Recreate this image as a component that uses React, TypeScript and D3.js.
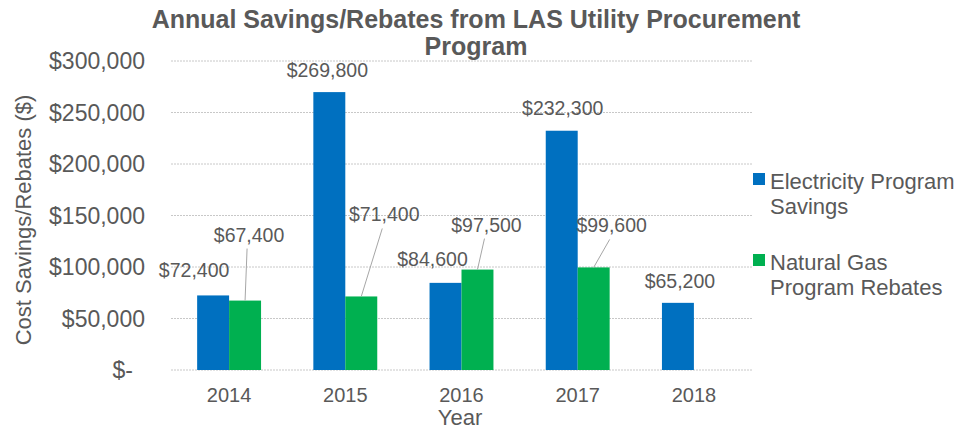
import React from "react";
import * as d3 from "d3";

const years = ["2014", "2015", "2016", "2017", "2018"];
const electricity = [72400, 269800, 84600, 232300, 65200];
const gas: (number | null)[] = [67400, 71400, 97500, 99600, null];
const yTicks = [0, 50000, 100000, 150000, 200000, 250000, 300000];
const seriesNames = [["Electricity Program", "Savings"], ["Natural Gas", "Program Rebates"]];

// manual label placements (offsets from bar center / bar top), as in the original
const elecLabelOffset = [[-19, -18], [-2, -15], [-13, -17], [1, -16], [2, -15]];
const gasLabelOffset = [[4, -59], [23, -75], [9, -38], [18, -35], [0, 0]];

const W = 961, H = 440;
const BLUE = "#0070C0", GREEN = "#00B050", TXT = "#595959";
const FONT = "'Liberation Sans', Arial, sans-serif";

export default function App() {
  const x = d3.scaleBand<string>().domain(years).range([171, 752]).paddingInner(0.45).paddingOuter(0.225);
  const y = d3.scaleLinear().domain([0, 300000]).range([370, 61]);
  const bw = x.bandwidth() / 2;
  const fmt = (v: number) => "$" + d3.format(",")(v);
  const tickFmt = (v: number) => (v === 0 ? "$-" : "$" + d3.format(",")(v));

  return (
    <svg width={W} height={H} style={{ position: "absolute", left: 0, top: 0, fontFamily: FONT }}>
      <rect width={W} height={H} fill="#fff" />
      <text x={476} y={28} textAnchor="middle" fontSize={25} fontWeight="bold" fill={TXT}>
        Annual Savings/Rebates from LAS Utility Procurement
      </text>
      <text x={476} y={55} textAnchor="middle" fontSize={25} fontWeight="bold" fill={TXT}>
        Program
      </text>
      {yTicks.map((t) => (
        <g key={t}>
          <line x1={171} x2={752} y1={y(t)} y2={y(t)} stroke="#c8c8c8" strokeWidth={1} strokeDasharray="2 1" />
          <text x={145} dx={t === 0 ? -12 : 0} y={y(t)} dy="0.35em" textAnchor="end" fontSize={23} fill={TXT}>
            {tickFmt(t)}
          </text>
        </g>
      ))}
      <text transform={`translate(31,220) rotate(-90)`} textAnchor="middle" fontSize={22} fill={TXT}>
        Cost Savings/Rebates ($)
      </text>
      {years.map((yr, i) => {
        const x0 = x(yr)!;
        const e = electricity[i];
        const g = gas[i];
        const ex = x0 + bw / 2;
        const gx = x0 + bw * 1.5;
        return (
          <g key={yr}>
            <rect x={x0} y={y(e)} width={bw} height={y(0) - y(e)} fill={BLUE} />
            {g != null && <rect x={x0 + bw} y={y(g)} width={bw} height={y(0) - y(g)} fill={GREEN} />}
            <text x={ex + elecLabelOffset[i][0]} y={y(e) + elecLabelOffset[i][1]} textAnchor="middle" fontSize={19.5} fill={TXT}>
              {fmt(e)}
            </text>
            {g != null && (
              <g>
                <line
                  x1={gx + gasLabelOffset[i][0] - 2}
                  y1={y(g) + gasLabelOffset[i][1] + 7}
                  x2={gx}
                  y2={y(g)}
                  stroke="#a6a6a6"
                  strokeWidth={1}
                />
                <text x={gx + gasLabelOffset[i][0]} y={y(g) + gasLabelOffset[i][1]} textAnchor="middle" fontSize={19.5} fill={TXT}>
                  {fmt(g)}
                </text>
              </g>
            )}
            <text x={x0 + bw} y={402} textAnchor="middle" fontSize={20} fill={TXT}>
              {yr}
            </text>
          </g>
        );
      })}
      <text x={460} y={425} textAnchor="middle" fontSize={22} fill={TXT}>
        Year
      </text>
      {seriesNames.map((lines, i) => (
        <g key={i} transform={`translate(753,${173 + i * 81})`}>
          <rect x={0} y={0} width={12} height={12} fill={i === 0 ? BLUE : GREEN} />
          {lines.map((l, j) => (
            <text key={j} x={17} y={16 + j * 25} fontSize={22} fill={TXT}>
              {l}
            </text>
          ))}
        </g>
      ))}
    </svg>
  );
}
